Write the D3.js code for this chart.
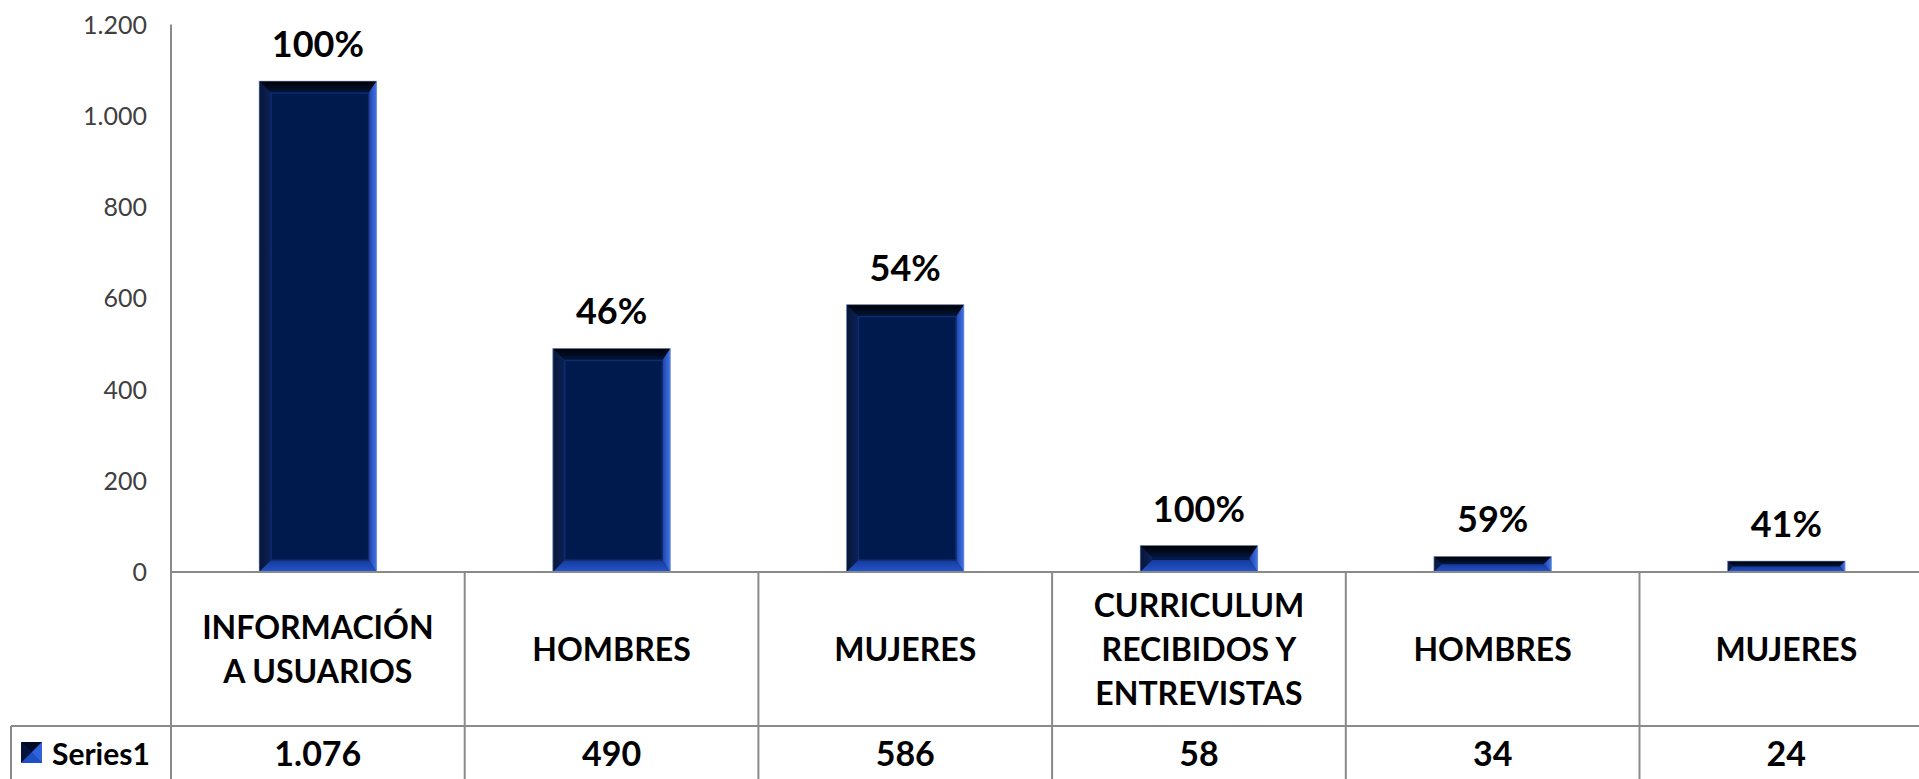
<!DOCTYPE html>
<html>
<head>
<meta charset="utf-8">
<script src="https://cdn.jsdelivr.net/npm/d3@7"></script>
<style>
  html, body { margin: 0; padding: 0; background: #fff; overflow: hidden; }
  svg { display: block; font-family: Lato, "Open Sans", sans-serif; }
</style>
</head>
<body>
<svg id="chart" width="1919" height="779"></svg>
<script>
// chart data
var categories = ["INFORMACIÓN\nA USUARIOS", "HOMBRES", "MUJERES", "CURRICULUM\nRECIBIDOS Y\nENTREVISTAS", "HOMBRES", "MUJERES"];
var values = [1076, 490, 586, 58, 34, 24];
var percents = ["100%", "46%", "54%", "100%", "59%", "41%"];
var yTicks = [0, 200, 400, 600, 800, 1000, 1200];
var seriesName = "Series1";

var W = 1919, H = 779;
var plotLeft = 171, colW = 293.7, plotTop = 24.5, base = 572, rowSplit = 726;

var svg = d3.select("#chart");

// spanish number format: 1.076
var es = d3.formatLocale({decimal: ",", thousands: ".", grouping: [3], currency: ["", " €"]});
var fmt = es.format(",d");

var x = d3.scaleBand()
  .domain(d3.range(categories.length))
  .range([plotLeft, plotLeft + colW * categories.length])
  .paddingInner(0.6)
  .paddingOuter(0.3);

var y = d3.scaleLinear().domain([0, 1200]).range([base, plotTop]);

// gradients for the bevelled bars
var defs = svg.append("defs");
var gTop = defs.append("linearGradient").attr("id", "gTop").attr("x1", 0).attr("y1", 0).attr("x2", 0).attr("y2", 1);
gTop.append("stop").attr("offset", 0).attr("stop-color", "#000000");
gTop.append("stop").attr("offset", 1).attr("stop-color", "#02163f");
var gBot = defs.append("linearGradient").attr("id", "gBot").attr("x1", 0).attr("y1", 0).attr("x2", 0).attr("y2", 1);
gBot.append("stop").attr("offset", 0).attr("stop-color", "#16399a");
gBot.append("stop").attr("offset", 1).attr("stop-color", "#2456cc");
var gRight = defs.append("linearGradient").attr("id", "gRight").attr("x1", 0).attr("y1", 0).attr("x2", 1).attr("y2", 0);
gRight.append("stop").attr("offset", 0).attr("stop-color", "#1d44a8");
gRight.append("stop").attr("offset", 1).attr("stop-color", "#4274e8");
var gLeft = defs.append("linearGradient").attr("id", "gLeft").attr("x1", 0).attr("y1", 0).attr("x2", 1).attr("y2", 0);
gLeft.append("stop").attr("offset", 0).attr("stop-color", "#071637");
gLeft.append("stop").attr("offset", 1).attr("stop-color", "#0b2258");

// y tick labels
svg.append("g").selectAll("text")
  .data(yTicks)
  .enter().append("text")
  .attr("x", 147)
  .attr("y", function(d){ return y(d); })
  .attr("dy", "0.36em")
  .attr("text-anchor", "end")
  .style("font-size", "25px")
  .style("fill", "#404040")
  .text(function(d){ return fmt(d); });

// bars
var bars = svg.append("g").selectAll("g")
  .data(values)
  .enter().append("g")
  .attr("transform", function(d, i){ return "translate(" + x(i) + "," + y(d) + ")"; });

bars.each(function(d){
  var g = d3.select(this);
  var w = x.bandwidth(), h = base - y(d);
  var b = Math.min(12, h / 2), br = Math.min(8, h / 2);
  g.append("rect").attr("width", w).attr("height", h).attr("fill", "#001a4e");
  // top
  g.append("polygon").attr("points", [[0,0],[w,0],[w-br,b],[b,b]].join(" ")).attr("fill", "url(#gTop)");
  // left
  g.append("polygon").attr("points", [[0,0],[b,b],[b,h-b],[0,h]].join(" ")).attr("fill", "url(#gLeft)");
  // right
  g.append("polygon").attr("points", [[w,0],[w,h],[w-br,h-b],[w-br,b]].join(" ")).attr("fill", "url(#gRight)");
  // bottom
  g.append("polygon").attr("points", [[0,h],[b,h-b],[w-br,h-b],[w,h]].join(" ")).attr("fill", "url(#gBot)");
  if (h > 30) {
    g.append("rect").attr("x", b).attr("y", b).attr("width", w - b - br).attr("height", h - 2 * b)
      .attr("fill", "none").attr("stroke", "#0e2c6e").attr("stroke-width", 1.5);
  }
  g.append("rect").attr("width", w).attr("height", h).attr("fill", "none")
    .attr("stroke", "#8fa6d6").attr("stroke-width", 1).attr("stroke-opacity", 0.6);
});

// percentage labels
svg.append("g").selectAll("text")
  .data(percents)
  .enter().append("text")
  .attr("x", function(d, i){ return x(i) + x.bandwidth() / 2; })
  .attr("y", function(d, i){ return y(values[i]) - 24; })
  .attr("text-anchor", "middle")
  .style("font-size", "36px")
  .style("font-weight", "bold")
  .style("fill", "#000")
  .text(function(d){ return d; });

// data table grid
var grid = svg.append("g").attr("stroke", "#8a8a8a").attr("stroke-width", 2);
grid.append("line").attr("x1", plotLeft).attr("x2", W).attr("y1", base).attr("y2", base);
grid.append("line").attr("x1", 11).attr("x2", W).attr("y1", rowSplit).attr("y2", rowSplit);
grid.append("line").attr("x1", 11).attr("x2", 11).attr("y1", rowSplit).attr("y2", H);
grid.append("line").attr("x1", plotLeft).attr("x2", plotLeft).attr("y1", plotTop).attr("y2", H);
grid.selectAll("line.col")
  .data(d3.range(1, categories.length + 1))
  .enter().append("line")
  .attr("class", "col")
  .attr("x1", function(i){ return plotLeft + colW * i; })
  .attr("x2", function(i){ return plotLeft + colW * i; })
  .attr("y1", base).attr("y2", H);

// category labels
var catMid = (base + rowSplit) / 2, lineH = 44;
svg.append("g").selectAll("text")
  .data(categories)
  .enter().append("text")
  .attr("text-anchor", "middle")
  .style("font-size", "32px")
  .style("font-weight", "bold")
  .style("fill", "#000")
  .each(function(d, i){
    var lines = d.split("\n");
    var t = d3.select(this);
    var cx = plotLeft + colW * i + colW / 2;
    lines.forEach(function(l, k){
      t.append("tspan")
        .attr("x", cx)
        .attr("y", catMid + (k - (lines.length - 1) / 2) * lineH)
        .attr("dy", "0.36em")
        .text(l);
    });
  });

// value row
var valMid = 754;
svg.append("g").selectAll("text")
  .data(values)
  .enter().append("text")
  .attr("x", function(d, i){ return plotLeft + colW * i + colW / 2; })
  .attr("y", valMid)
  .attr("dy", "0.36em")
  .attr("text-anchor", "middle")
  .style("font-size", "34px")
  .style("font-weight", "bold")
  .style("fill", "#000")
  .text(function(d){ return fmt(d); });

// legend key
var key = svg.append("g").attr("transform", "translate(21,742)");
key.append("rect").attr("width", 21).attr("height", 21).attr("fill", "#0a2a78");
key.append("polygon").attr("points", "0,0 21,0 10.5,10.5").attr("fill", "#000a24");
key.append("polygon").attr("points", "0,0 10.5,10.5 0,21").attr("fill", "#04143c");
key.append("polygon").attr("points", "21,0 21,21 10.5,10.5").attr("fill", "#2e63dc");
key.append("polygon").attr("points", "0,21 21,21 10.5,10.5").attr("fill", "#1f4fc4");
svg.append("text")
  .attr("x", 52).attr("y", valMid).attr("dy", "0.36em")
  .style("font-size", "30px")
  .style("font-weight", "bold")
  .style("fill", "#000")
  .text(seriesName);
</script>
</body>
</html>
